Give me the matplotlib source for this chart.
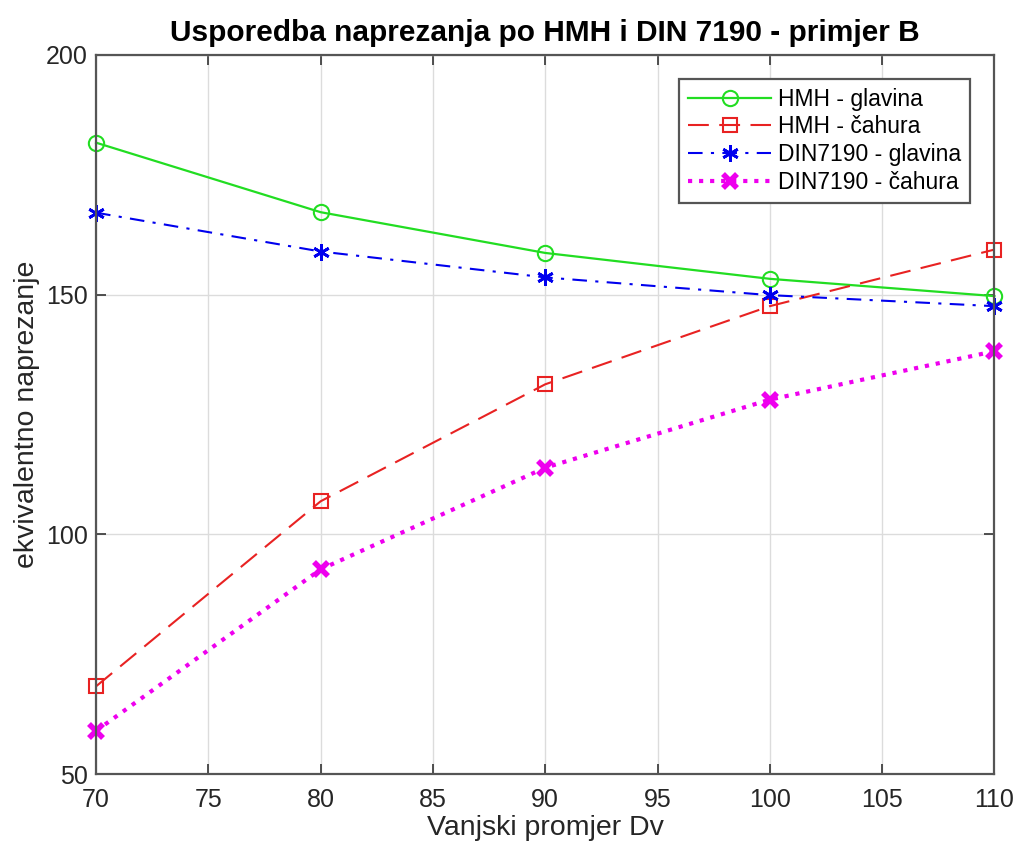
import matplotlib.pyplot as plt

# Vanjski promjer Dv
dv = [70, 80, 90, 100, 110]

# ekvivalentno naprezanje
hmh_glavina = [181.7, 167.2, 158.7, 153.3, 149.7]
hmh_cahura = [68.3, 106.9, 131.3, 147.6, 159.4]
din_glavina = [167.1, 159.0, 153.6, 149.9, 147.6]
din_cahura = [59.0, 92.7, 113.9, 128.1, 138.2]

x_ticks = [70, 75, 80, 85, 90, 95, 100, 105, 110]
y_ticks = [50, 100, 150, 200]

plt.rcParams['font.family'] = ['Liberation Sans', 'DejaVu Sans']

fig = plt.figure(figsize=(10.22, 8.52), dpi=100)
ax = fig.add_axes([0.094, 0.0915, 0.879, 0.844])

ax.plot(dv, hmh_glavina, color='#22dd22', linewidth=1.6, marker='o', markersize=11,
        markerfacecolor='none', markeredgewidth=1.5, label='HMH - glavina', clip_on=False)
ax.plot(dv, hmh_cahura, color='#e82222', linewidth=1.5, dashes=(10, 5), marker='s',
        markersize=10, markerfacecolor='none', markeredgewidth=1.5, label='HMH - čahura',
        clip_on=False)
ax.plot(dv, din_glavina, color='#0000ee', linewidth=1.5, dashes=(7, 4, 1.5, 4),
        marker=(6, 2, 0), markersize=12, markeredgewidth=2, label='DIN7190 - glavina',
        clip_on=False)
ax.plot(dv, din_cahura, color='#ee00ee', linewidth=3, linestyle=':', marker='x',
        markersize=10, markeredgewidth=4, label='DIN7190 - čahura', clip_on=False)

# MATLAB-like axes
ax.set_xlim(70, 110)
ax.set_ylim(50, 200)
ax.set_xticks(x_ticks)
ax.set_yticks(y_ticks)
ax.grid(True, color='#dcdcdc', linewidth=1.0)
ax.set_axisbelow(True)
for side in ax.spines.values():
    side.set_color('#555555')
    side.set_linewidth(1.6)
ax.tick_params(direction='in', length=7, width=1.2, color='#333333',
               top=True, right=True, labelsize=18, labelcolor='#262626')
ax.tick_params(axis='x', pad=10)
ax.tick_params(axis='y', pad=6)

ax.set_xlabel('Vanjski promjer Dv', fontsize=20.5, color='#262626', labelpad=2)
ax.set_ylabel('ekvivalentno naprezanje', fontsize=20.5, color='#262626', labelpad=4)
ax.set_title('Usporedba naprezanja po HMH i DIN 7190 - primjer B', fontsize=21.5,
             fontweight='bold', pad=10)

leg = ax.legend(loc='upper right', bbox_to_anchor=(0.973, 0.967), fontsize=16.5,
                handlelength=3.6, handletextpad=0.3, labelspacing=0.2,
                borderpad=0.4, borderaxespad=0, fancybox=False, framealpha=1)
leg.get_frame().set_edgecolor('#555555')
leg.get_frame().set_linewidth(1.6)

fig.savefig('out.png', dpi=100)
